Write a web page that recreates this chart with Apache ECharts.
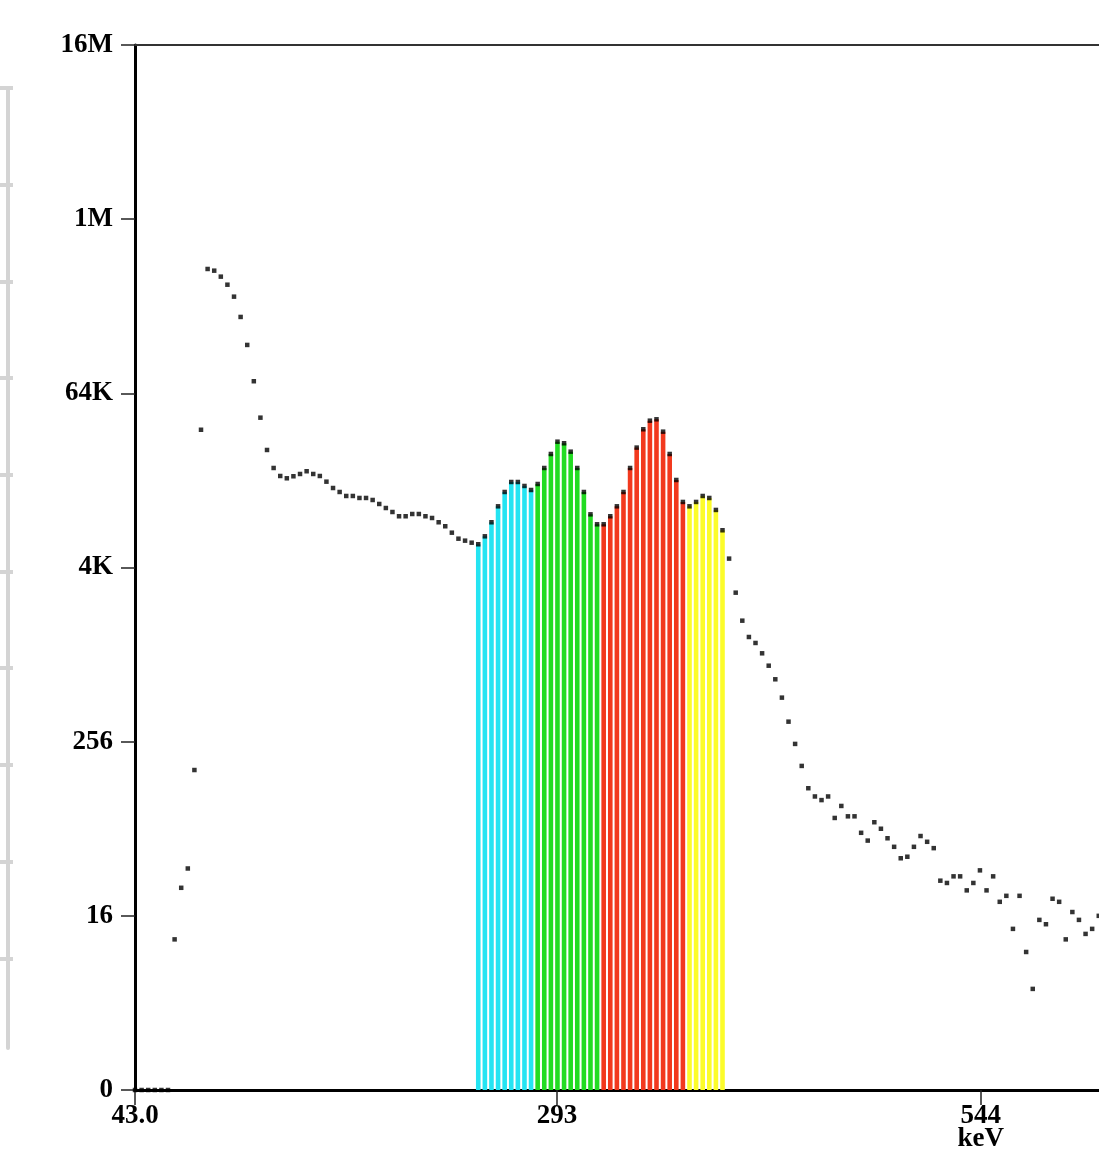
<!DOCTYPE html>
<html><head><meta charset="utf-8">
<script src="https://cdn.jsdelivr.net/npm/echarts@6/dist/echarts.min.js"></script>
<style>html,body{margin:0;padding:0;background:#fff}#c{width:1099px;height:1152px}</style>
</head><body><div id="c"></div>
<script>
// Spectrum channels: energy calibration (keV) of channel 0 and channel width
const channelStartKeV = 43.0;
const channelWidthKeV = 3.91;
// Counts per channel
const counts = [
  0, 0, 0, 0, 0, 0,
  11, 25, 34, 163, 36700,
  474500, 461900, 420000, 369400, 305400,
  221100, 141600, 79460, 44490, 26600,
  19970, 17580, 16950, 17500, 18150,
  18960, 18150, 17580, 16060, 14520,
  13630, 12790, 12790, 12390, 12390,
  12000, 11260, 10560, 9910, 9260,
  9260, 9600, 9600, 9260, 9010,
  8415, 7897, 7130, 6480, 6280,
  6080, 5930, 6730, 8415, 10850,
  13630, 15980, 15980, 15000, 14070,
  15480, 19970, 24960, 30360, 29600,
  25890, 19970, 13630, 9550, 8150,
  8150, 9260, 10850, 13630, 19970,
  27630, 36990, 42410, 43360, 35610,
  24960, 16500, 11630, 10850, 11630,
  12790, 12390, 10240, 7410, 4718,
  2744, 1757, 1355, 1232, 1045,
  858, 691, 516, 352, 247,
  174, 122, 107, 101, 107,
  76, 92, 78, 78, 60,
  53, 71, 64, 55, 48,
  40, 41, 48, 57, 52,
  47, 28, 27, 30, 30,
  24, 27, 33, 24, 30,
  20, 22, 13, 22, 9,
  5, 15, 14, 21, 20,
  11, 17, 15, 12, 13,
  16
];
// Regions of interest (channel index ranges)
const roiStart = [52, 61, 71, 84];
const roiEnd = [60, 70, 83, 89];
// Axis ticks
const xTickValues = [43, 293, 544];
const xTickLabels = ['43.0', '293', '544\nkeV'];
const yTickLabels = ['0', '16', '256', '4K', '64K', '1M', '16M'];

const roiColors = ['#24e4f2', '#22dc22', '#f2391e', '#fcfc2a'];
const FONT = 'Liberation Serif';

const energy = i => channelStartKeV + i * channelWidthKeV;
const dots = counts.map((c, i) => [energy(i), Math.max(c, 1)]);
const bars = [];
roiStart.forEach((s, r) => {
  for (let i = s; i <= roiEnd[r]; i++) {
    bars.push({ value: [energy(i), counts[i]], itemStyle: { color: roiColors[r] } });
  }
});
const grayTicks = [];
for (let k = 0; k < 10; k++) grayTicks.push(k * 96.7);
const grayStyle = { color: '#d4d4d4', width: 4 };

const chart = echarts.init(document.getElementById('c'), null, { renderer: 'canvas' });
chart.setOption({
  animation: false,
  backgroundColor: '#fff',
  grid: [
    { left: 135, right: 0, top: 45, bottom: 62, outerBoundsMode: 'none', containLabel: false },
    { left: 8, top: 88, width: 4, height: 960, outerBoundsMode: 'none', containLabel: false }
  ],
  xAxis: [
    {
      type: 'value', gridIndex: 0, position: 'bottom', min: 43, max: 614,
      axisLine: { onZero: false, lineStyle: { color: '#000', width: 3 } },
      axisTick: { show: true, length: 15, customValues: xTickValues, lineStyle: { color: '#222', width: 1.5 } },
      axisLabel: {
        customValues: xTickValues, margin: 15,
        formatter: v => xTickLabels[xTickValues.indexOf(v)],
        fontFamily: FONT, fontWeight: 'bold', fontSize: 27, color: '#000', lineHeight: 23
      },
      splitLine: { show: false }
    },
    {
      type: 'value', gridIndex: 0, position: 'top', min: 43, max: 614,
      axisLine: { onZero: false, lineStyle: { color: '#333', width: 2 } },
      axisTick: { show: false }, axisLabel: { show: false }, splitLine: { show: false }
    },
    { type: 'value', gridIndex: 1, show: false, min: 0, max: 1 }
  ],
  yAxis: [
    {
      type: 'log', gridIndex: 0, logBase: 16, min: 1, max: 16777216, splitNumber: 6,
      axisLine: { show: true, onZero: false, lineStyle: { color: '#000', width: 3 } },
      axisTick: { show: true, length: 14, lineStyle: { color: '#222', width: 1.5 } },
      axisLabel: {
        margin: 22,
        formatter: v => yTickLabels[Math.round(Math.log(v) / Math.log(16))],
        fontFamily: FONT, fontWeight: 'bold', fontSize: 27, color: '#000'
      },
      splitLine: { show: false }
    },
    {
      type: 'value', gridIndex: 1, inverse: true, min: 0, max: 960,
      axisLine: { show: true, lineStyle: grayStyle },
      axisTick: { show: true, length: 8, customValues: grayTicks, lineStyle: grayStyle },
      axisLabel: { show: false }, splitLine: { show: false }
    },
    {
      type: 'value', gridIndex: 1, inverse: true, min: 0, max: 960, position: 'left',
      axisLine: { show: false },
      axisTick: { show: true, inside: true, length: 5, customValues: grayTicks, lineStyle: grayStyle },
      axisLabel: { show: false }, splitLine: { show: false }
    }
  ],
  series: [
    {
      type: 'bar', xAxisIndex: 0, yAxisIndex: 0, barWidth: 4.6, data: bars, z: 2,
      itemStyle: { borderWidth: 0 }
    },
    {
      type: 'scatter', xAxisIndex: 0, yAxisIndex: 0, data: dots, z: 3,
      symbol: 'rect', symbolSize: 4.5, itemStyle: { color: '#000' }, clip: false
    }
  ]
});
</script></body></html>
